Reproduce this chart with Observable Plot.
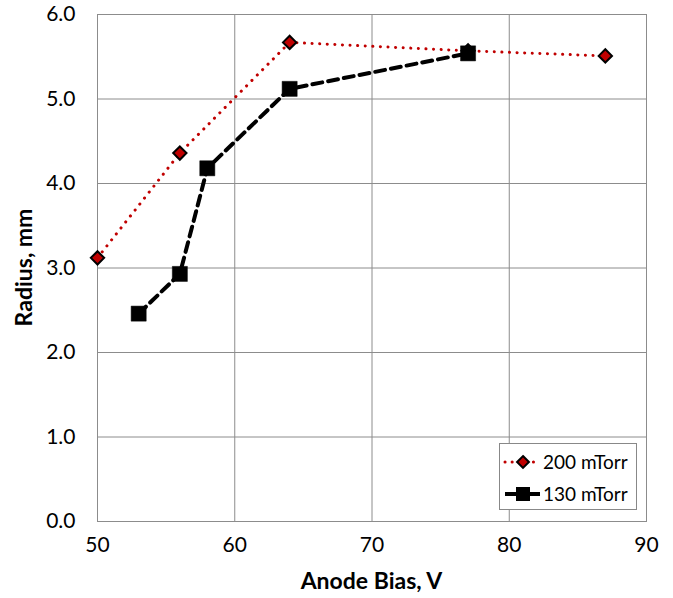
<!DOCTYPE html>
<html><head><meta charset="utf-8">
<script src="https://cdn.jsdelivr.net/npm/d3@7"></script>
<script src="https://cdn.jsdelivr.net/npm/@observablehq/plot@0.6"></script>
<style>
body{margin:0;background:#fff;font-family:Lato,"Open Sans",sans-serif;}
#wrap{position:relative;width:673px;height:598px;}
#legend{position:absolute;left:499px;top:443px;width:138px;height:67px;border:1px solid #888;background:#fff;box-sizing:border-box;}
</style></head><body>
<div id="wrap"><div id="chart"></div><div id="legend"></div></div>
<script>
const bias200 = [50, 56, 64, 77, 87];
const radius200 = [3.12, 4.36, 5.67, 5.57, 5.51];
const bias130 = [53, 56, 58, 64, 77];
const radius130 = [2.46, 2.93, 4.18, 5.12, 5.54];
const xTicks = [50, 60, 70, 80, 90];
const yTicks = [0, 1, 2, 3, 4, 5, 6];
const seriesNames = ["200 mTorr", "130 mTorr"];
const xTitle = "Anode Bias, V";
const yTitle = "Radius, mm";

const d200 = bias200.map((x, i) => ({x, y: radius200[i]}));
const d130 = bias130.map((x, i) => ({x, y: radius130[i]}));

const chart = Plot.plot({
  width: 673, height: 598,
  marginLeft: 97, marginRight: 27, marginTop: 14, marginBottom: 77,
  style: {fontFamily: "Lato, 'Open Sans', sans-serif", fontSize: "21px", color: "#000", background: "#fff"},
  x: {domain: [50, 90]},
  y: {domain: [0, 6]},
  marks: [
    Plot.gridX(xTicks, {stroke: "#8c8c8c", strokeOpacity: 1, strokeWidth: 1}),
    Plot.gridY(yTicks, {stroke: "#8c8c8c", strokeOpacity: 1, strokeWidth: 1}),
    Plot.frame({stroke: "#8c8c8c"}),
    Plot.line(d200, {x: "x", y: "y", stroke: "#c00000", strokeWidth: 3, strokeDasharray: "0.1 7.5", strokeLinecap: "round"}),
    Plot.line(d130, {x: "x", y: "y", stroke: "#000", strokeWidth: 4, strokeDasharray: "10 6"}),
    Plot.dot(d200, {x: "x", y: "y", symbol: "diamond2", r: 6, fill: "#c00000", stroke: "#000", strokeWidth: 2}),
    Plot.dot(d130, {x: "x", y: "y", symbol: "square", r: 8.5, fill: "#000", stroke: "#000", strokeWidth: 0.5}),
    Plot.axisX(xTicks, {tickSize: 0, tickPadding: 16, fontSize: 21, label: null}),
    Plot.axisY(yTicks, {tickSize: 0, tickPadding: 22, tickFormat: d => d.toFixed(1), fontSize: 21, label: null})
  ]
});
const svg = d3.select(chart);
const xr = chart.scale("x").range, yr = chart.scale("y").range;
svg.append("text").attr("x", (xr[0] + xr[1]) / 2).attr("y", 589)
  .attr("text-anchor", "middle").attr("font-weight", "bold").attr("font-size", 23).text(xTitle);
svg.append("text").attr("transform", `translate(32,${(yr[0] + yr[1]) / 2}) rotate(-90)`)
  .attr("text-anchor", "middle").attr("font-weight", "bold").attr("font-size", 23).text(yTitle);
document.getElementById("chart").appendChild(chart);

// legend
const lg = d3.select("#legend").append("svg").attr("width", 136).attr("height", 65);
const rows = [
  {name: seriesNames[0], y: 18, red: true},
  {name: seriesNames[1], y: 50, red: false}
];
rows.forEach(r => {
  if (r.red) {
    lg.append("line").attr("x1", 5).attr("x2", 40).attr("y1", r.y).attr("y2", r.y)
      .attr("stroke", "#c00000").attr("stroke-width", 3).attr("stroke-dasharray", "0.1 7").attr("stroke-linecap", "round");
    lg.append("path").attr("d", d3.symbol(d3.symbolDiamond2, 90)()).attr("transform", `translate(23,${r.y})`)
      .attr("fill", "#c00000").attr("stroke", "#000").attr("stroke-width", 2);
  } else {
    lg.append("line").attr("x1", 5).attr("x2", 40).attr("y1", r.y).attr("y2", r.y)
      .attr("stroke", "#000").attr("stroke-width", 4);
    lg.append("rect").attr("x", 16).attr("y", r.y - 7).attr("width", 14).attr("height", 14).attr("fill", "#000");
  }
  lg.append("text").attr("x", 43).attr("y", r.y).attr("dy", "0.35em").attr("font-size", 19)
    .attr("font-family", "Lato, sans-serif").text(r.name);
});
</script>
</body></html>
